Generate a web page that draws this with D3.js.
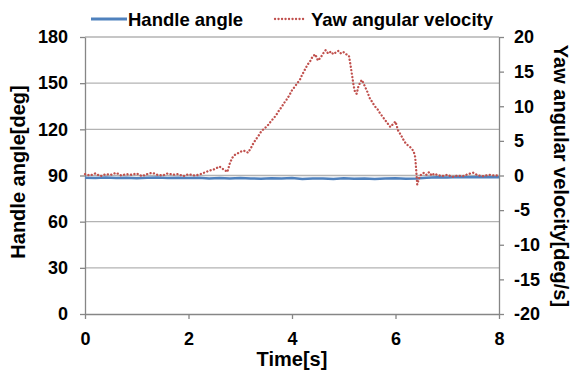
<!DOCTYPE html>
<html>
<head>
<meta charset="utf-8">
<script src="https://cdn.jsdelivr.net/npm/d3@7"></script>
<style>
  body { margin: 0; background: #fff; }
  svg { display: block; font-family: "Liberation Sans", Arial, sans-serif; font-weight: bold; }
</style>
</head>
<body>
<svg id="chart" width="572" height="376"></svg>
<script>
// ---- data ----
const seriesNames = ['Handle angle', 'Yaw angular velocity'];
const xTicks = [0, 2, 4, 6, 8];
const leftTicks = [0, 30, 60, 90, 120, 150, 180];
const rightTicks = [-20, -15, -10, -5, 0, 5, 10, 15, 20];

// handle angle [deg]
const handleTime = [0, 0.2, 0.4, 0.6, 0.8, 1.0, 1.2, 1.4, 1.6, 1.8, 2.0, 2.2, 2.4, 2.6, 2.8, 3.0,
  3.2, 3.4, 3.6, 3.8, 4.0, 4.2, 4.4, 4.6, 4.8, 5.0, 5.2, 5.4, 5.6, 5.8, 6.0, 6.2, 6.4, 6.6,
  6.8, 7.0, 7.2, 7.4, 7.6, 7.8, 8.0];
const handleAngle = [88.6, 88.3, 88.7, 88.4, 88.6, 88.2, 88.5, 88.7, 88.4, 88.6, 88.3, 88.5, 88.1, 88.4, 88.0, 88.3,
  88.1, 87.9, 88.2, 88.0, 88.3, 87.8, 88.1, 88.0, 87.7, 88.2, 87.9, 88.1, 87.8, 88.0, 88.2, 87.9, 88.1, 88.6,
  88.9, 88.7, 89.0, 88.8, 89.1, 88.9, 88.8];

// yaw angular velocity [deg/s]
const yawTime = [0, 0.1, 0.2, 0.3, 0.4, 0.5, 0.6, 0.7, 0.8, 0.9, 1.0, 1.1, 1.2, 1.3, 1.4, 1.5, 1.6,
  1.7, 1.8, 1.9, 2.0, 2.1, 2.2, 2.3, 2.4, 2.5, 2.6, 2.65, 2.7, 2.75, 2.8, 2.85, 2.9, 3.0, 3.05,
  3.1, 3.15, 3.2, 3.25, 3.3, 3.35, 3.4, 3.45, 3.5, 3.55, 3.6, 3.65, 3.7, 3.75, 3.8, 3.85, 3.9,
  3.95, 4.0, 4.05, 4.1, 4.15, 4.2, 4.25, 4.3, 4.35, 4.4, 4.45, 4.5, 4.55, 4.6, 4.65, 4.7, 4.75,
  4.8, 4.85, 4.9, 4.95, 5.0, 5.05, 5.1, 5.13, 5.16, 5.19, 5.22, 5.25, 5.28, 5.32, 5.35, 5.4,
  5.45, 5.5, 5.55, 5.6, 5.65, 5.7, 5.75, 5.8, 5.85, 5.9, 5.95, 6.0, 6.05, 6.1, 6.15, 6.2, 6.25,
  6.3, 6.35, 6.38, 6.4, 6.42, 6.45, 6.5, 6.55, 6.6, 6.65, 6.7, 6.75, 6.8, 6.9, 7.0, 7.1, 7.2,
  7.3, 7.4, 7.5, 7.6, 7.7, 7.8, 7.9, 8.0];
const yawVelocity = [0.2, 0.0, 0.3, -0.1, 0.2, 0.1, 0.4, 0.0, 0.2, 0.1, 0.3, -0.1, 0.2, 0.4, 0.1, 0.0, 0.3,
  0.1, 0.2, -0.1, 0.2, 0.0, 0.1, 0.4, 0.7, 0.9, 1.3, 1.0, 0.8, 0.5, 1.8, 2.6, 3.0, 3.4, 3.6,
  3.5, 3.3, 3.9, 4.6, 5.2, 5.7, 6.3, 6.7, 7.0, 7.4, 7.9, 8.3, 8.8, 9.4, 9.9, 10.5, 11.0,
  11.6, 12.3, 12.8, 13.3, 13.8, 14.6, 15.3, 16.0, 16.5, 17.2, 17.5, 16.6, 17.0, 17.6, 18.1, 17.6, 17.9,
  17.5, 17.8, 18.0, 17.6, 17.8, 17.5, 17.3, 16.0, 14.5, 13.0, 12.0, 11.8, 12.8, 13.5, 13.8, 13.0,
  12.2, 11.2, 10.6, 10.0, 9.6, 9.0, 8.5, 8.0, 7.5, 7.0, 7.4, 7.8, 6.5, 5.9, 5.2, 4.6, 4.3,
  4.0, 3.5, 2.7, 0.8, -1.3, -0.5, 0.2, 0.4, 0.1, 0.5, 0.0, 0.3, 0.1, -0.1, 0.1, -0.2, 0.0,
  -0.1, 0.2, 0.4, 0.0, -0.1, 0.1, 0.0, 0.0];

// ---- layout ----
const svg = d3.select('#chart');
const plot = { left: 85, right: 499, top: 37, bottom: 314 };
const blue = '#4F81BD', red = '#C0504D', axisGrey = '#868686', gridGrey = '#B3B3B3';

const x = d3.scaleLinear().domain([0, 8]).range([plot.left, plot.right]);
const yL = d3.scaleLinear().domain([0, 180]).range([plot.bottom, plot.top]);
const yR = d3.scaleLinear().domain([-20, 20]).range([plot.bottom, plot.top]);

// gridlines
svg.append('g')
  .selectAll('line')
  .data(leftTicks.filter(d => d > 0))
  .enter().append('line')
  .attr('x1', plot.left).attr('x2', plot.right)
  .attr('y1', d => yL(d)).attr('y2', d => yL(d))
  .attr('stroke', gridGrey).attr('stroke-width', 1.3);

// axes (plain hyphen for negatives, like the original)
const fmt = d => String(d);

function styleAxis(g, fontSize) {
  g.select('.domain').attr('stroke', axisGrey).attr('stroke-width', 1.3);
  g.selectAll('.tick line').attr('stroke', axisGrey).attr('stroke-width', 1.3);
  g.selectAll('.tick text').attr('fill', '#000').style('font-size', fontSize + 'px')
    .style('font-weight', 'bold').style('font-family', '"Liberation Sans", Arial, sans-serif');
}

const xAxis = svg.append('g')
  .attr('transform', `translate(0,${plot.bottom})`)
  .call(d3.axisBottom(x).tickValues(xTicks).tickFormat(fmt).tickSize(5).tickPadding(13).tickSizeOuter(0));
styleAxis(xAxis, 18);

const leftAxis = svg.append('g')
  .attr('transform', `translate(${plot.left},0)`)
  .call(d3.axisLeft(yL).tickValues(leftTicks).tickFormat(fmt).tickSize(5).tickPadding(12).tickSizeOuter(0));
styleAxis(leftAxis, 18);

const rightAxis = svg.append('g')
  .attr('transform', `translate(${plot.right},0)`)
  .call(d3.axisRight(yR).tickValues(rightTicks).tickFormat(fmt).tickSize(5).tickPadding(10).tickSizeOuter(0));
styleAxis(rightAxis, 18);

// series
const handleData = handleTime.map((t, i) => [t, handleAngle[i]]);
const yawData = yawTime.map((t, i) => [t, yawVelocity[i]]);

svg.append('path')
  .datum(handleData)
  .attr('fill', 'none')
  .attr('stroke', blue)
  .attr('stroke-width', 2.5)
  .attr('d', d3.line().x(d => x(d[0])).y(d => yL(d[1])));

svg.append('path')
  .datum(yawData)
  .attr('fill', 'none')
  .attr('stroke', red)
  .attr('stroke-width', 2.3)
  .attr('stroke-linecap', 'round')
  .attr('stroke-dasharray', '0.1 3.4')
  .attr('d', d3.line().x(d => x(d[0])).y(d => yR(d[1])));

// axis titles
svg.append('text')
  .attr('x', (plot.left + plot.right) / 2).attr('y', 366)
  .attr('text-anchor', 'middle')
  .style('font-size', '20px')
  .text('Time[s]');

svg.append('text')
  .attr('transform', 'translate(25,172) rotate(-90)')
  .attr('text-anchor', 'middle')
  .style('font-size', '20px')
  .text('Handle angle[deg]');

svg.append('text')
  .attr('transform', 'translate(554,176) rotate(90)')
  .attr('text-anchor', 'middle')
  .style('font-size', '20px')
  .text('Yaw angular velocity[deg/s]');

// legend
const legend = svg.append('g').attr('transform', 'translate(91,19)');
legend.append('line')
  .attr('x1', 0).attr('x2', 36).attr('y1', 0).attr('y2', 0)
  .attr('stroke', blue).attr('stroke-width', 3);
legend.append('text')
  .attr('x', 37).attr('y', 6.5)
  .style('font-size', '18.5px')
  .text(seriesNames[0]);
legend.append('line')
  .attr('x1', 184).attr('x2', 215).attr('y1', 0).attr('y2', 0)
  .attr('stroke', red).attr('stroke-width', 2.3)
  .attr('stroke-linecap', 'round').attr('stroke-dasharray', '0.1 3.4');
legend.append('text')
  .attr('x', 220).attr('y', 6.5)
  .style('font-size', '18.5px')
  .text(seriesNames[1]);
</script>
</body>
</html>
